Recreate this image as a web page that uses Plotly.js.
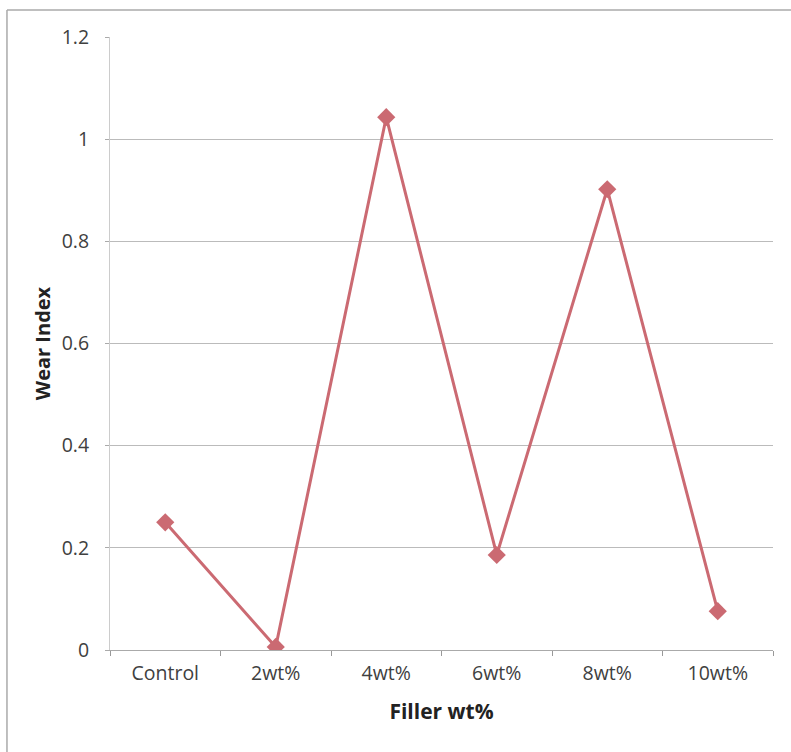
<!DOCTYPE html>
<html>
<head>
<meta charset="utf-8">
<script src="https://cdn.plot.ly/plotly-3.0.1.min.js"></script>
<style>html,body{margin:0;padding:0;background:#fff;}#chart{width:791px;height:752px;}</style>
</head>
<body>
<div id="chart"></div>
<script>
const categories = ["Control", "2wt%", "4wt%", "6wt%", "8wt%", "10wt%"];
const wearIndex = [0.25, 0.006, 1.043, 0.186, 0.902, 0.076];
const yTickVals = [0, 0.2, 0.4, 0.6, 0.8, 1, 1.2];
const yTickText = ["0", "0.2", "0.4", "0.6", "0.8", "1", "1.2"];

const color = "#CB6A72";
const trace = {
  x: categories,
  y: wearIndex,
  type: "scatter",
  mode: "lines+markers",
  line: {color: color, width: 3},
  marker: {symbol: "diamond", size: 14, color: color},
  showlegend: false
};

const layout = {
  width: 791, height: 752,
  margin: {l: 110, r: 18, t: 37, b: 102},
  paper_bgcolor: "#fff", plot_bgcolor: "#fff",
  font: {family: "Open Sans, sans-serif", color: "#404040"},
  xaxis: {
    type: "category",
    range: [-0.5, 5.5],
    tickson: "boundaries",
    ticks: "outside", ticklen: 5, tickcolor: "#999",
    showgrid: false,
    showline: true, linecolor: "#aaa", linewidth: 1,
    tickfont: {size: 19.5, color: "#404040"},
    ticklabelstandoff: 6,
    title: {text: "<b>Filler wt%</b>", font: {size: 21, color: "#222"}, standoff: 18}
  },
  yaxis: {
    range: [0, 1.2],
    tickvals: yTickVals, ticktext: yTickText,
    ticks: "outside", ticklen: 4, tickcolor: "#aaa",
    showgrid: true, gridcolor: "#bbb", gridwidth: 1,
    showline: true, linecolor: "#ccc",
    zeroline: false,
    tickfont: {size: 19.5, color: "#404040"},
    ticklabelstandoff: 12,
    title: {text: "<b>Wear Index</b>", font: {size: 20, color: "#222"}, standoff: 5}
  },
  shapes: [
    {type: "line", xref: "paper", yref: "paper", x0: -0.1554, x1: -0.1554, y0: -0.17, y1: 1.044,
     line: {color: "#aaa", width: 1.5}},
    {type: "line", xref: "paper", yref: "paper", x0: -0.1554, x1: 1.03, y0: 1.044, y1: 1.044,
     line: {color: "#aaa", width: 1.5}}
  ]
};

Plotly.newPlot("chart", [trace], layout, {displayModeBar: false, staticPlot: true});
</script>
</body>
</html>
